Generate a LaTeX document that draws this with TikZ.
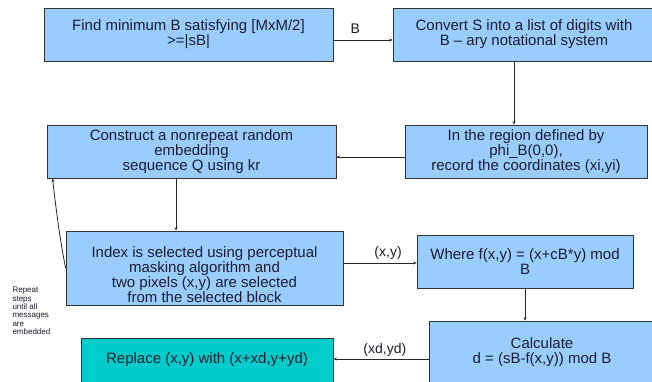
\documentclass[tikz,border=0pt]{standalone}
\usepackage{fontspec}
\setmainfont{Liberation Sans}
\usetikzlibrary{arrows.meta}
\definecolor{boxblue}{HTML}{99CCFF}
\definecolor{boxteal}{HTML}{00CCCC}
\definecolor{inkdark}{HTML}{1C1C30}

\begin{document}
\begin{tikzpicture}[x=1pt,y=-1pt]
	\tikzstyle{every node}=[text=inkdark, font=\fontsize{15}{15}\selectfont]
	\tikzstyle{stepbox}=[draw=black!80, fill=boxblue, line width=0.8pt, inner sep=0pt, align=center]
	\tikzstyle{arr}=[draw=black!85, line width=0.8pt, -{Stealth[length=3.5pt,width=3pt]}]
	\tikzstyle{lbl}=[font=\fontsize{14}{14}\selectfont]
	\clip (0,0) rectangle (652,381);
	% top row
	\node[stepbox, minimum width=289pt, minimum height=53pt] (find) at (188.5,34.5)
		{Find minimum B satisfying [MxM/2]\\ >=|sB|};
	\node[stepbox, minimum width=262pt, minimum height=53pt] (convert) at (524,34.5)
		{Convert S into a list of digits with\\ B – ary notational system};
	% second row
	\node[stepbox, minimum width=289pt, minimum height=53pt] (construct) at (191.5,151.5)
		{Construct a nonrepeat random\\ embedding\\ sequence Q using kr};
	\node[stepbox, minimum width=242pt, minimum height=53pt] (region) at (526,151.5)
		{In the region defined by\\ phi\_B(0,0),\\ record the coordinates (xi,yi)};
	% third row
	\node[stepbox, minimum width=277pt, minimum height=74pt] (index) at (204.5,268)
		{\rule{0pt}{24pt}Index is selected using perceptual\\ masking algorithm and\\ two pixels (x,y) are selected\\ from the selected block};
	\node[stepbox, minimum width=216pt, minimum height=53pt] (where) at (525,261.5)
		{Where f(x,y) = (x+cB*y) mod\\ B};
	% last row
	\node[stepbox, minimum width=226pt, minimum height=63pt] (calc) at (542,352.5)
		{Calculate\\ d = (sB-f(x,y)) mod B};
	\node[stepbox, fill=boxteal, minimum width=252pt, minimum height=44pt] (replace) at (207,360)
		{Replace (x,y) with (x+xd,y+yd)};
	\node[font=\fontsize{8}{8.4}\selectfont, align=left, anchor=west] (note) at (9,311)
		{Repeat\\steps\\until all\\messages\\are\\embedded};
	% connectors
	\draw[arr] ([yshift=-5.5pt]find.east) -- node[lbl, pos=0.37, yshift=11pt] {B} ([yshift=-5.5pt]convert.west);
	\draw[arr] ([xshift=-10pt]convert.south) -- ([xshift=-10pt]convert.south |- region.north);
	\draw[arr] ([yshift=-5.5pt]region.west) -- ([yshift=-5.5pt]region.west -| construct.east);
	\draw[arr] ([xshift=-15.5pt]construct.south) -- ([xshift=-15.5pt]construct.south |- index.north);
	\draw[arr] ([yshift=5pt]index.east) -- node[lbl, pos=0.61, yshift=10pt] {(x,y)} ([yshift=5pt]index.east -| where.west);
	\draw[arr] (where.south) -- (where.south |- calc.north);
	\draw[arr] ([yshift=-6.5pt]calc.west) -- node[lbl, pos=0.46, yshift=9pt] {(xd,yd)} ([yshift=-6.5pt]calc.west -| replace.east);
	\draw[arr] (index.west) .. controls (59,235) and (55,200) .. ([xshift=6pt]construct.south west);
\end{tikzpicture}
\end{document}
